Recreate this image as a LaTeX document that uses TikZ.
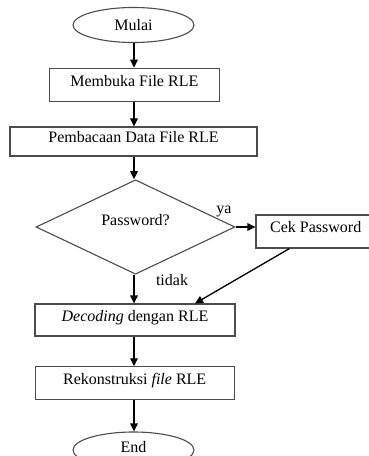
\documentclass[tikz,border=0pt]{standalone}
\usepackage{fontspec}
\setmainfont{Liberation Serif}
\usetikzlibrary{shapes.geometric,arrows.meta,calc}
\begin{document}
\begin{tikzpicture}[x=1pt,y=-1pt,
  every node/.style={font=\fontsize{16}{19}\selectfont},
  shapeline/.style={draw=black!70,line width=1.1pt},
  term/.style={shapeline,ellipse,inner sep=0pt,minimum width=121pt,minimum height=35pt},
  procbox/.style={shapeline,rectangle,inner sep=0pt,text height=11pt,text depth=9pt},
  decide/.style={shapeline,diamond,inner sep=0pt,text height=11pt,text depth=15pt,minimum width=199pt,minimum height=79pt},
  flow/.style={draw=black,line width=1.3pt,-{Triangle[length=8pt,width=7.5pt]}},
  lbl/.style={inner sep=0pt}]
\useasboundingbox (0,0) rectangle (369,456);
\clip (0,0) rectangle (369,456);
\node[term] (mulai) at (133.5,25) {Mulai};
\node[procbox,minimum width=170pt,minimum height=33.5pt] (buka) at (134.3,85) {Membuka File RLE};
\node[procbox,minimum width=247pt,minimum height=29pt] (baca) at (133.5,141.5) {Pembacaan Data File RLE};
\node[decide] (pass) at (135.5,227) {Password?};
\node[procbox,minimum width=134pt,minimum height=33pt] (cek) at (323,231.5) {Cek Password\hspace*{14.6pt}};
\node[procbox,minimum width=200pt,minimum height=32pt] (decod) at (135,320) {\textit{Decoding} dengan RLE};
\node[procbox,minimum width=199pt,minimum height=32.3pt] (rek) at (134.7,383) {Rekonstruksi \textit{file} RLE};
\node[term,minimum height=36pt,text height=11pt,text depth=6pt] (end) at (133.5,450) {End};
\node[lbl] (ya) at (224,211) {ya};
\node[lbl] (tidak) at (172,280) {tidak};
\coordinate (cekout) at ($(cek.south west)+(34,0)$);
\coordinate (decin) at ($(decod.north)+(60,0)$);
\draw[flow] (mulai.south -| 134,0) -- (buka.north -| 134,0);
\draw[flow] (buka.south -| 134,0) -- (baca.north -| 134,0);
\draw[flow] (baca.south -| 134,0) -- (pass.north -| 134,0);
\draw[flow] (pass.east) -- (pass.east -| cek.west);
\draw[flow] (pass.south -| 134,0) -- (decod.north -| 134,0);
\draw[flow] (cekout) -- (decin);
\draw[flow] (decod.south -| 134,0) -- (rek.north -| 134,0);
\draw[flow] (rek.south -| 134,0) -- (end.north -| 134,0);
\end{tikzpicture}
\end{document}
